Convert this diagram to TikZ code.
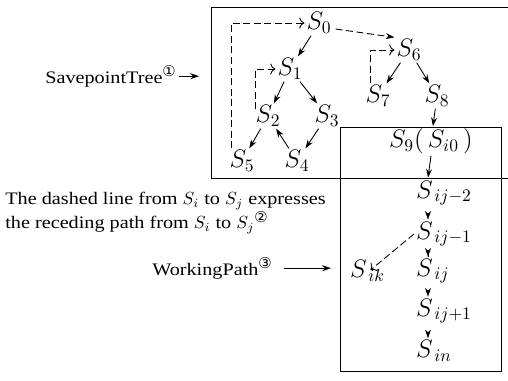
\documentclass[tikz,border=0pt]{standalone}
\usepackage{fontspec}
\setmainfont[FakeStretch=1.15]{Liberation Serif}
\newfontfamily\circfont{DejaVu Sans}
\usetikzlibrary{calc,arrows.meta}
\newcommand{\circnum}[1]{\textsuperscript{\circfont\fontsize{8.5}{9}\selectfont #1}}
\tikzset{
  sp/.style={inner sep=1pt, font=\fontsize{14}{16}\selectfont},
  lbl/.style={inner sep=0pt, font=\fontsize{10}{10.5}\selectfont, align=left},
  arr/.style={-{Stealth[length=5pt,width=3.4pt]}, line width=0.5pt},
  back/.style={dash pattern=on 4pt off 2pt, -{To[length=3pt]}, line width=0.5pt},
  frame/.style={draw=black, line width=0.55pt},
}

\begin{document}
\begin{tikzpicture}[x=0.02cm, y=-0.02cm]
  \useasboundingbox (0,0) rectangle (508,380);
  % frames
  \draw[frame] (508,7) -| (211,178) -- (508,178);
  \draw[frame] (340,127) rectangle (501,371);

  % savepoint tree
  \node[sp] (S0) at (319,23) {$S_0$};
  \node[sp] (S1) at (290,69) {$S_1$};
  \node[sp] (S2) at (268,116) {$S_2$};
  \node[sp] (S3) at (327,116) {$S_3$};
  \node[sp] (S5) at (242,161) {$S_5$};
  \node[sp] (S4) at (297,161) {$S_4$};
  \node[sp] (S6) at (409,50) {$S_6$};
  \node[sp] (S7) at (378,96) {$S_7$};
  \node[sp] (S8) at (437,96) {$S_8$};
  \node[sp] (S9) at (431,141) {$S_9(\,S_{i0}\,)$};

  % working path
  \node[sp, anchor=west] (Sij2) at (414,193) {$S_{\,ij-2}$};
  \node[sp, anchor=west] (Sij1) at (414,234) {$S_{\,ij-1}$};
  \node[sp, anchor=west] (Sik) at (348,271) {$S_{\,ik}$};
  \node[sp, anchor=west] (Sij) at (414,271) {$S_{\,ij}$};
  \node[sp, anchor=west] (Sijp) at (414,311) {$S_{\,ij+1}$};
  \node[sp, anchor=west] (Sin) at (414,351) {$S_{\,in}$};

  % labels
  \node[lbl, anchor=base west] (treelbl) at (45,83) {SavepointTree\circnum{①}};
  \node[lbl, anchor=north west] (dashlbl) at (5,192)
    {The dashed line from $S_i$ to $S_j$ expresses\\the receding path from $S_i$ to $S_j$\circnum{②}};
  \node[lbl, anchor=base west] (worklbl) at (152,275) {WorkingPath\circnum{③}};
  \coordinate (treein) at (199,0);
  \coordinate (workin) at (331,0);
  \draw[arr] ([xshift=1pt]treelbl.east) -- (treelbl.east -| treein);
  \draw[arr] ([xshift=6pt]worklbl.east) -- (worklbl.east -| workin);

  % tree edges
  \foreach \a/\b in {S0/S1, S1/S2, S1/S3, S2/S5, S3/S4, S4/S2, S6/S7, S6/S8, S8/S9}
    \draw[arr] (\a) -- (\b);
  \draw[arr, dash pattern=on 4pt off 2pt] ($(S0.east)+(2,6)$) -- (S6.north west);

  % receding paths
  \draw[back] ($(S5.north west)+(4,0)$) |- (S0.west);
  \draw[back] ($(S2.north west)+(2,6)$) |- (S1.west);
  \draw[back] ($(S7.north west)+(7,0)$) |- (S6.west);
  \draw[back] (Sij1.west) -- ($(Sik.center)+(3,-1)$);

  % path steps
  \draw[arr] (S9.south) -- ($(Sij2.north west)+(14,-1)$);
  \foreach \a/\b in {Sij2/Sij1, Sij1/Sij, Sij/Sijp, Sijp/Sin}
    \draw[arr, shorten <=5pt] ($(\a.south west)+(14,0)$) -- ($(\b.north west)+(14,0)$);
\end{tikzpicture}
\end{document}
